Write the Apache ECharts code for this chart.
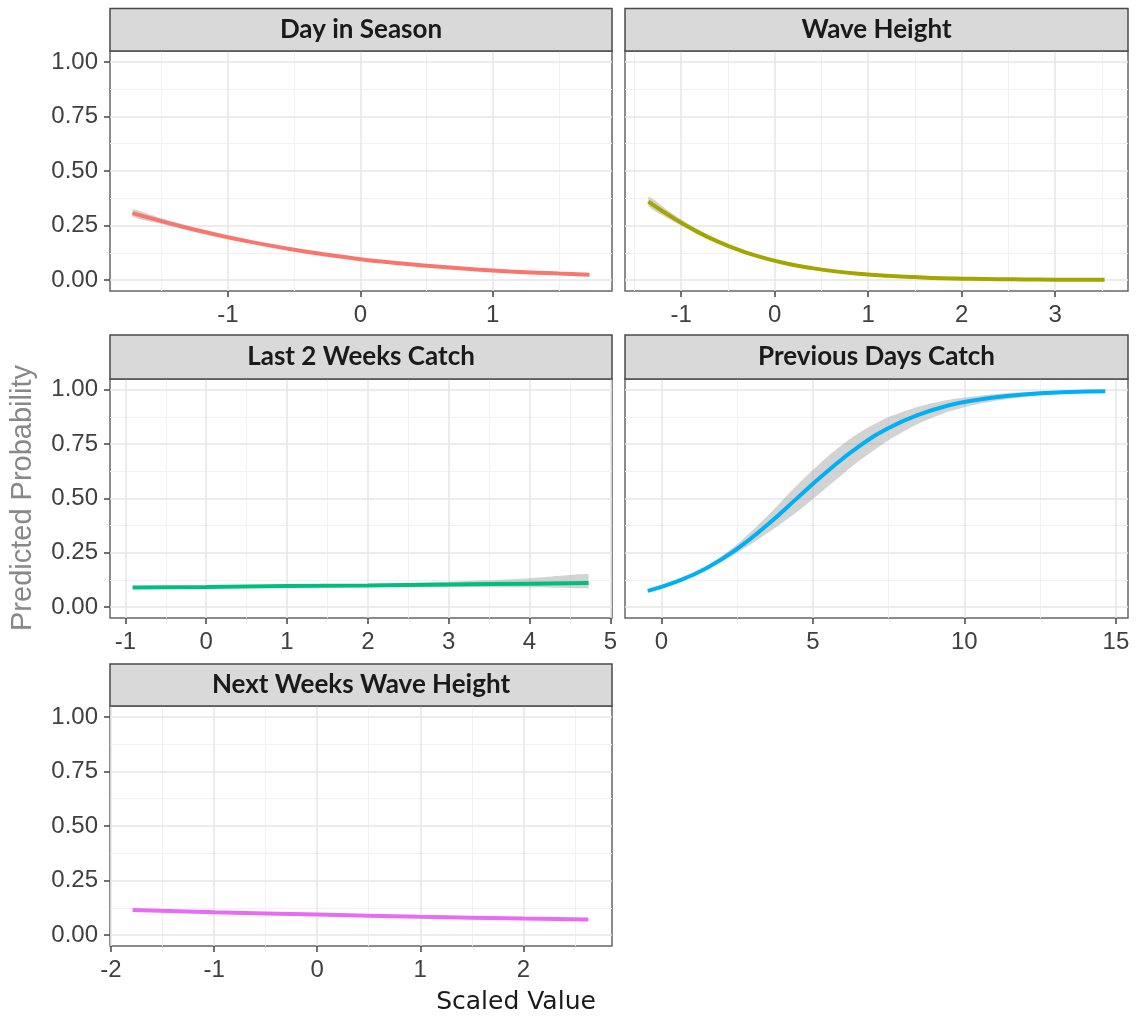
<!DOCTYPE html>
<html>
<head>
<meta charset="utf-8">
<script src="https://cdn.jsdelivr.net/npm/echarts@6/dist/echarts.min.js"></script>
<style>html,body{margin:0;padding:0;background:#fff}</style>
</head>
<body>
<div id="main" style="width:1136px;height:1019px"></div>
<script>
var titles = ['Day in Season', 'Wave Height', 'Last 2 Weeks Catch', 'Previous Days Catch', 'Next Weeks Wave Height'];
var colors = ['#F8766D', '#A3A500', '#00BF7D', '#00B0F6', '#E76BF3'];

var yTicks = [0, 0.25, 0.5, 0.75, 1];
var yMinor = [0.125, 0.375, 0.625, 0.875];

// Day in Season
var dayX   = [-1.72, -1.5, -1.25, -1, -0.75, -0.5, -0.25, 0, 0.25, 0.5, 0.75, 1, 1.25, 1.5, 1.73];
var dayFit = [0.307, 0.270, 0.231, 0.196, 0.166, 0.139, 0.116, 0.096, 0.080, 0.066, 0.054, 0.044, 0.036, 0.030, 0.025];
var dayLo  = [0.290, 0.257, 0.221, 0.189, 0.161, 0.135, 0.113, 0.093, 0.077, 0.063, 0.051, 0.041, 0.033, 0.027, 0.022];
var dayHi  = [0.325, 0.283, 0.241, 0.203, 0.171, 0.143, 0.119, 0.099, 0.083, 0.069, 0.057, 0.047, 0.039, 0.033, 0.029];
var dayTicks = [-1, 0, 1];
var dayMinor = [-1.5, -0.5, 0.5, 1.5];

// Wave Height
var waveX   = [-1.35, -1.1, -0.85, -0.6, -0.35, -0.1, 0.15, 0.4, 0.65, 0.9, 1.2, 1.5, 1.8, 2.1, 2.4, 2.7, 3.0, 3.3, 3.53];
var waveFit = [0.360, 0.289, 0.227, 0.175, 0.133, 0.100, 0.074, 0.055, 0.040, 0.029, 0.020, 0.014, 0.009, 0.006, 0.004, 0.003, 0.002, 0.0013, 0.001];
var waveLo  = [0.338, 0.273, 0.216, 0.168, 0.128, 0.096, 0.071, 0.052, 0.038, 0.027, 0.018, 0.012, 0.008, 0.005, 0.003, 0.002, 0.001, 0.0008, 0.0005];
var waveHi  = [0.383, 0.306, 0.239, 0.183, 0.138, 0.104, 0.077, 0.058, 0.043, 0.031, 0.022, 0.016, 0.011, 0.008, 0.006, 0.004, 0.003, 0.002, 0.0018];
var waveTicks = [-1, 0, 1, 2, 3];
var waveMinor = [-1.5, -0.5, 0.5, 1.5, 2.5, 3.5];

// Last 2 Weeks Catch
var lastX   = [-0.91, 0, 1, 2, 3, 4, 4.73];
var lastFit = [0.090, 0.093, 0.097, 0.100, 0.104, 0.108, 0.111];
var lastLo  = [0.085, 0.089, 0.093, 0.094, 0.093, 0.091, 0.087];
var lastHi  = [0.095, 0.097, 0.101, 0.107, 0.117, 0.133, 0.152];
var lastTicks = [-1, 0, 1, 2, 3, 4, 5];
var lastMinor = [-0.5, 0.5, 1.5, 2.5, 3.5, 4.5];

// Previous Days Catch
var prevX   = [-0.45, 0.5, 1.5, 2.5, 3.5, 4.5, 5.5, 6.5, 7.5, 8.5, 9.5, 10.5, 11.5, 12.5, 13.5, 14.65];
var prevFit = [0.075, 0.117, 0.180, 0.268, 0.379, 0.504, 0.628, 0.738, 0.824, 0.886, 0.929, 0.956, 0.973, 0.984, 0.990, 0.994];
var prevLo  = [0.072, 0.113, 0.172, 0.250, 0.340, 0.440, 0.555, 0.670, 0.768, 0.845, 0.900, 0.936, 0.959, 0.974, 0.984, 0.990];
var prevHi  = [0.078, 0.121, 0.189, 0.290, 0.420, 0.565, 0.695, 0.800, 0.875, 0.924, 0.955, 0.973, 0.985, 0.992, 0.996, 0.998];
var prevTicks = [0, 5, 10, 15];
var prevMinor = [2.5, 7.5, 12.5];

// Next Weeks Wave Height
var nextX   = [-1.79, -1, 0, 1, 2, 2.63];
var nextFit = [0.115, 0.105, 0.094, 0.084, 0.076, 0.071];
var nextLo  = [0.111, 0.102, 0.092, 0.082, 0.073, 0.067];
var nextHi  = [0.119, 0.108, 0.096, 0.087, 0.079, 0.075];
var nextTicks = [-2, -1, 0, 1, 2];
var nextMinor = [-1.5, -0.5, 0.5, 1.5, 2.5];

var panels = [
  {x: dayX, fit: dayFit, lo: dayLo, hi: dayHi, xmin: -1.89, xmax: 1.90, ticks: dayTicks, minor: dayMinor},
  {x: waveX, fit: waveFit, lo: waveLo, hi: waveHi, xmin: -1.60, xmax: 3.78, ticks: waveTicks, minor: waveMinor},
  {x: lastX, fit: lastFit, lo: lastLo, hi: lastHi, xmin: -1.19, xmax: 5.02, ticks: lastTicks, minor: lastMinor},
  {x: prevX, fit: prevFit, lo: prevLo, hi: prevHi, xmin: -1.2, xmax: 15.4, ticks: prevTicks, minor: prevMinor},
  {x: nextX, fit: nextFit, lo: nextLo, hi: nextHi, xmin: -2.01, xmax: 2.86, ticks: nextTicks, minor: nextMinor}
];

// plot boxes and strip boxes
var boxes = [
  {left: 110, top: 51, width: 502, height: 240, stripTop: 8.5},
  {left: 625, top: 51, width: 503, height: 240, stripTop: 8.5},
  {left: 110, top: 379, width: 502, height: 239, stripTop: 335},
  {left: 625, top: 379, width: 503, height: 239, stripTop: 335},
  {left: 110, top: 706, width: 502, height: 240, stripTop: 664}
];

var tickFont = {fontFamily: 'Liberation Sans', fontSize: 24, color: '#404040'};

var chartDom = document.getElementById('main');
var myChart = echarts.init(chartDom);

var grid = [], xAxis = [], yAxis = [], series = [], graphic = [];

boxes.forEach(function (b) {
  grid.push({
    left: b.left, top: b.top, width: b.width, height: b.height,
    show: true, backgroundColor: '#fff', borderColor: '#666', borderWidth: 1.5
  });
});

// main axes 0..4
panels.forEach(function (p, i) {
  xAxis.push({
    type: 'value', gridIndex: i, min: p.xmin, max: p.xmax, z: 2,
    axisLine: {show: false, onZero: false},
    axisTick: {show: true, length: 6, customValues: p.ticks, lineStyle: {color: '#444', width: 1.5}},
    axisLabel: Object.assign({show: true, margin: 12, customValues: p.ticks}, tickFont),
    splitLine: {show: true, lineStyle: {color: '#e6e6e6', width: 1.5}}
  });
  var leftCol = (i % 2 === 0);
  yAxis.push({
    type: 'value', gridIndex: i, min: -0.05, max: 1.05, z: 2,
    axisLine: {show: false, onZero: false},
    axisTick: {show: leftCol, length: 6, customValues: yTicks, lineStyle: {color: '#444', width: 1.5}},
    axisLabel: Object.assign({show: leftCol, margin: 12, customValues: yTicks,
      formatter: function (v) { return v.toFixed(2); }}, tickFont),
    splitLine: {show: true, lineStyle: {color: '#e6e6e6', width: 1.5}}
  });
});
// minor grid axes 5..9
panels.forEach(function (p, i) {
  xAxis.push({
    type: 'value', gridIndex: i, min: p.xmin, max: p.xmax, z: 1,
    axisLine: {show: false, onZero: false}, axisLabel: {show: false},
    axisTick: {show: false, customValues: p.minor},
    splitLine: {show: true, lineStyle: {color: '#f1f1f1', width: 1}}
  });
  yAxis.push({
    type: 'value', gridIndex: i, min: -0.05, max: 1.05, z: 1,
    axisLine: {show: false, onZero: false}, axisLabel: {show: false},
    axisTick: {show: false, customValues: yMinor},
    splitLine: {show: true, lineStyle: {color: '#f1f1f1', width: 1}}
  });
});

panels.forEach(function (p, i) {
  var bandRows = p.x.map(function (x, k) { return [x, p.lo[k], p.hi[k]]; });
  var fit = p.x.map(function (x, k) { return [x, p.fit[k]]; });
  // confidence ribbon: one polygon through the axis scales
  series.push({
    type: 'custom', xAxisIndex: i, yAxisIndex: i, data: bandRows, silent: true, z: 3,
    encode: {x: 0, y: [1, 2]},
    renderItem: function (params, api) {
      if (params.dataIndex !== 0) return;
      var upper = [], lower = [];
      bandRows.forEach(function (r) {
        upper.push(api.coord([r[0], r[2]]));
        lower.push(api.coord([r[0], r[1]]));
      });
      var pts = upper.concat(lower.reverse());
      return {
        type: 'polygon',
        shape: {points: pts, smooth: 0.25, smoothConstraint: [pts[0], pts[0]]},
        style: {fill: 'rgba(150,150,150,0.42)'}
      };
    }
  });
  series.push({
    name: titles[i], type: 'line', xAxisIndex: i, yAxisIndex: i, data: fit,
    symbol: 'none', smooth: true, lineStyle: {color: colors[i], width: 4}, z: 4
  });

  var b = boxes[i];
  var sh = b.top - b.stripTop;
  graphic.push({
    type: 'rect', z: 10,
    shape: {x: b.left, y: b.stripTop, width: b.width, height: sh},
    style: {fill: '#d9d9d9', stroke: '#4a4a4a', lineWidth: 1.5}
  });
  graphic.push({
    type: 'text', z: 11,
    style: {
      x: b.left + b.width / 2, y: b.stripTop + sh / 2, text: titles[i],
      textAlign: 'center', textVerticalAlign: 'middle',
      font: 'bold 26px Lato', fill: '#1a1a1a'
    }
  });
});

graphic.push({
  type: 'text', z: 11, rotation: Math.PI / 2, x: 23, y: 498,
  style: {
    x: 0, y: 0, text: 'Predicted Probability', textAlign: 'center', textVerticalAlign: 'middle',
    font: '29px "Liberation Sans"', fill: '#888'
  }
});
graphic.push({
  type: 'text', z: 11,
  style: {
    x: 516, y: 1002, text: 'Scaled Value', textAlign: 'center', textVerticalAlign: 'middle',
    font: '25px "DejaVu Sans"', fill: '#1a1a1a'
  }
});

var option = {
  animation: false,
  backgroundColor: '#fff',
  grid: grid,
  xAxis: xAxis,
  yAxis: yAxis,
  series: series,
  graphic: graphic
};

option && myChart.setOption(option);
</script>
</body>
</html>
